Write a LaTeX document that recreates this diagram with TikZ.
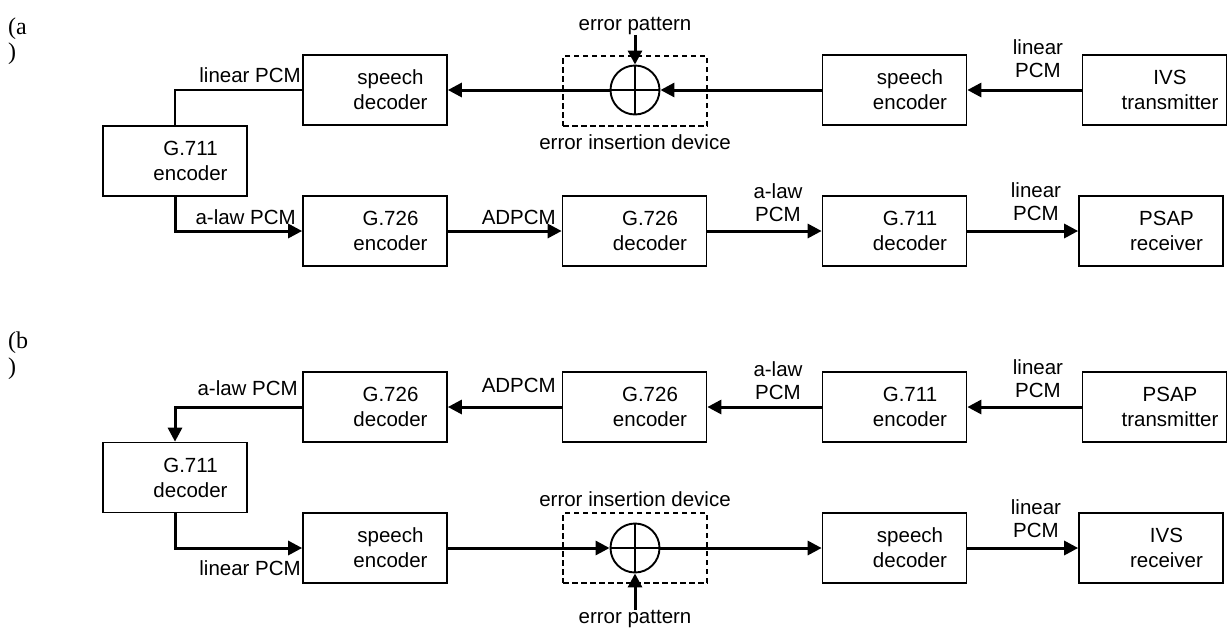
\documentclass[tikz,border=0pt]{standalone}
\usepackage{fontspec}
\setmainfont{Liberation Sans}
\newfontfamily\serifface{Liberation Serif}
\usetikzlibrary{arrows.meta}
\newcommand\mkblk[4]{\node[blk] (#1) at (#2,#3) {};\node[btxt] (#1t) at ([xshift=15.5pt]#1.center) {#4};}
\begin{document}
\begin{tikzpicture}[x=1pt,y=-1pt,
  blk/.style={draw, line width=1.7pt, minimum width=144pt, minimum height=70pt, inner sep=0pt},
  btxt/.style={align=center, font=\fontsize{20.5}{25}\selectfont, inner sep=0pt},
  lbl/.style={align=center, font=\fontsize{20.5}{23}\selectfont, inner sep=0pt},
  tag/.style={font=\serifface\fontsize{24}{25}\selectfont, inner sep=0pt, anchor=base west},
  flow/.style={line width=3pt, -{Triangle[length=14pt,width=14pt]}},
  thinline/.style={line width=1.7pt},
  eidbox/.style={draw, line width=1.6pt, dash pattern=on 5.5pt off 3.5pt, minimum width=144pt, minimum height=70pt, inner sep=0pt},
  adder/.style={circle, draw, line width=1.9pt, minimum size=49pt, inner sep=0pt},
  cross/.style={line width=2pt}
]
\useasboundingbox (0,0) rectangle (1231,630);

% ---------------- (a) ----------------
\node[tag] (ta1) at (8,34) {(a};
\node[tag] (ta2) at (8,59) {)};

\mkblk{sda}{375}{90}{speech\\decoder}
\mkblk{gea}{175}{161}{G.711\\encoder}
\mkblk{g6ea}{375}{231}{G.726\\encoder}
\mkblk{g6da}{634.5}{231}{G.726\\decoder}
\mkblk{g7da}{894.5}{231}{G.711\\decoder}
\mkblk{psr}{1151}{231}{PSAP\\receiver}
\mkblk{sea}{894.5}{90}{speech\\encoder}
\mkblk{ivt}{1154.5}{90}{IVS\\transmitter}

\node[eidbox] (eida) at (635,91) {};
\node[adder] (ca) at (635,90) {};
\draw[cross] (ca.north) -- (ca.south);
\draw[cross] (ca.west) -- (ca.east);
\node[lbl] (epa) at (635,26) {error pattern};
\node[lbl] (eila) at (635,142) {error insertion device};

\draw[thinline] (gea.north) |- (sda.west);
\draw[flow] (gea.south) |- (g6ea.west);
\draw[flow] (g6ea.east) -- (g6da.west);
\draw[flow] (g6da.east) -- (g7da.west);
\draw[flow] (g7da.east) -- (psr.west);
\draw[flow] (ivt.west) -- (sea.east);
\draw[flow] (sea.west) -- (ca.east);
\draw[flow] (ca.west) -- (sda.east);
\draw[flow] (epa.south) -- (ca.north);

\node[lbl, anchor=east] (la1) at (301,75) {linear PCM};
\node[lbl, anchor=east] (la2) at (296,217) {a-law PCM};
\node[lbl, anchor=east] (la3) at (556,217) {ADPCM};
\node[lbl] (la4) at (778,203) {a-law\\PCM};
\node[lbl] (la5) at (1036,202) {linear\\PCM};
\node[lbl] (la6) at (1038,59) {linear\\PCM};

% ---------------- (b) ----------------
\node[tag] (tb1) at (8,348) {(b};
\node[tag] (tb2) at (8,374) {)};

\mkblk{g6db}{375}{407}{G.726\\decoder}
\mkblk{g7db}{175}{477.5}{G.711\\decoder}
\mkblk{seb}{375}{548}{speech\\encoder}
\mkblk{g6eb}{634.5}{407}{G.726\\encoder}
\mkblk{g7eb}{894.5}{407}{G.711\\encoder}
\mkblk{pst}{1154.5}{407}{PSAP\\transmitter}
\mkblk{sdb}{894.5}{548}{speech\\decoder}
\mkblk{ivr}{1151}{548}{IVS\\receiver}

\node[eidbox] (eidb) at (635,548) {};
\node[adder] (cb) at (635,548) {};
\draw[cross] (cb.north) -- (cb.south);
\draw[cross] (cb.west) -- (cb.east);
\node[lbl] (epb) at (635,619) {error pattern};
\node[lbl] (eilb) at (635,499) {error insertion device};

\draw[flow] (g6db.west) -| (g7db.north);
\draw[flow] (g7db.south) |- (seb.west);
\draw[flow] (seb.east) -- (cb.west);
\draw[flow] (cb.east) -- (sdb.west);
\draw[flow] (sdb.east) -- (ivr.west);
\draw[flow] (pst.west) -- (g7eb.east);
\draw[flow] (g7eb.west) -- (g6eb.east);
\draw[flow] (g6eb.west) -- (g6db.east);
\draw[flow] (epb.north) -- (cb.south);

\node[lbl, anchor=east] (lb1) at (298,388) {a-law PCM};
\node[lbl, anchor=east] (lb2) at (301,568) {linear PCM};
\node[lbl, anchor=east] (lb3) at (556,385) {ADPCM};
\node[lbl] (lb4) at (778,381) {a-law\\PCM};
\node[lbl] (lb5) at (1038,379) {linear\\PCM};
\node[lbl] (lb6) at (1036,519) {linear\\PCM};
\end{tikzpicture}
\end{document}
